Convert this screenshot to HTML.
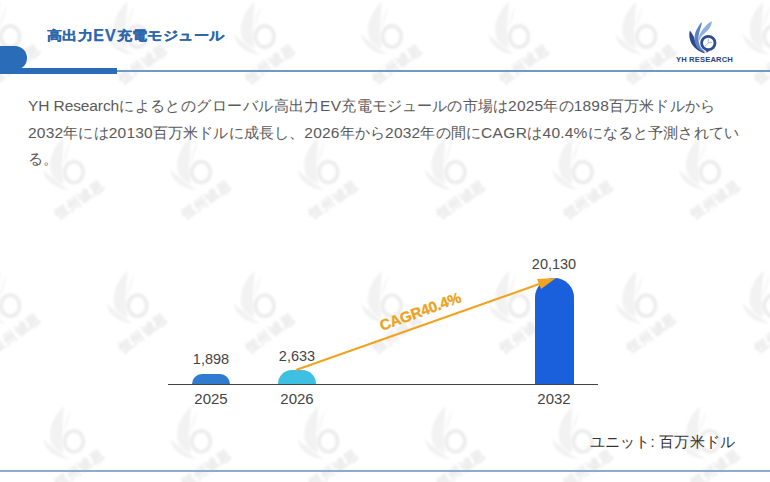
<!DOCTYPE html>
<html><head><meta charset="utf-8">
<style>
html,body{margin:0;padding:0;}
body{width:770px;height:482px;position:relative;overflow:hidden;background:#fff;font-family:"Liberation Sans",sans-serif;}
.abs{position:absolute;}
.sq{display:inline-block;transform:translateY(-0.8px) scaleY(0.86);transform-origin:50% 55%;}
.ev{display:inline-block;font-size:16px;letter-spacing:1px;}
#title{left:47px;top:26px;font-size:15px;font-weight:bold;color:#2d66ad;letter-spacing:0.4px;-webkit-text-stroke:0.25px #2d66ad;white-space:nowrap;line-height:20px;}
#tab{left:-12px;top:46px;width:39px;height:24px;background:#2b6cb8;border-radius:0 12px 12px 0;}
#thick{left:0;top:68px;width:117px;height:6px;background:#2b6cb8;}
#thin{left:117px;top:70px;width:653px;height:2px;background:#7298c8;}
#bottom{left:0;top:470px;width:770px;height:2px;background:#8eaacc;}
#para{left:28px;top:92px;width:760px;font-size:15px;line-height:27px;color:#5a5a5a;letter-spacing:0.15px;}
.ln{white-space:nowrap;height:27px;}
.w{letter-spacing:0.45px;}
.d{letter-spacing:0.2px;font-size:15.5px;}
.l{letter-spacing:0.4px;font-size:15.5px;}
.y{letter-spacing:-0.1px;font-size:15.5px;}
#unit{left:590px;top:432px;font-size:15px;color:#333;white-space:nowrap;line-height:20px;letter-spacing:0.15px;}
.lbl{font-size:14px;color:#444;text-align:center;width:60px;line-height:16px;}
</style></head><body>

<svg class="abs" style="left:0;top:0" width="770" height="482">
<defs>
<filter id="bl" x="-20%" y="-20%" width="140%" height="140%"><feGaussianBlur stdDeviation="0.8"/></filter>
<g id="wmk" fill="#f2f2f2" filter="url(#bl)">
  <path d="M-10,-35 C-18,-28 -24,-17 -24,-6 C-24,3 -18,9 -10,12 C-12,4 -12.5,-6 -11.5,-14 C-11,-22 -10.5,-28 -10,-35Z"/>
  <path d="M-31,-3 C-29,10 -18,17 -4,18 C-12,13 -18,9 -22,5 C-26,2 -29,0 -31,-3Z"/>
  <path d="M-3,-31 C-8,-24 -10,-16 -10.5,-8 C-8,-14 -5,-22 -3,-31Z" fill="#f5f5f5"/>
  <ellipse cx="0" cy="0" rx="9.3" ry="10.5" fill="none" stroke="#ededed" stroke-width="3.8"/>
  <text x="0" y="0" transform="translate(-15,47) rotate(-35)" font-family="Liberation Sans" font-weight="bold" font-size="12.5" letter-spacing="1.2" fill="#eeeeee" stroke="#eeeeee" stroke-width="0.8">恒州诚思</text>
</g>
</defs>
<use href="#wmk" transform="translate(10.3,36.5)"/>
<use href="#wmk" transform="translate(137.5,36.5)"/>
<use href="#wmk" transform="translate(264.7,36.5)"/>
<use href="#wmk" transform="translate(391.9,36.5)"/>
<use href="#wmk" transform="translate(519.1,36.5)"/>
<use href="#wmk" transform="translate(646.3,36.5)"/>
<use href="#wmk" transform="translate(773.5,36.5)"/>
<use href="#wmk" transform="translate(-53.3,172.1)"/>
<use href="#wmk" transform="translate(73.9,172.1)"/>
<use href="#wmk" transform="translate(201.1,172.1)"/>
<use href="#wmk" transform="translate(328.3,172.1)"/>
<use href="#wmk" transform="translate(455.5,172.1)"/>
<use href="#wmk" transform="translate(582.7,172.1)"/>
<use href="#wmk" transform="translate(709.9,172.1)"/>
<use href="#wmk" transform="translate(10.3,305.7)"/>
<use href="#wmk" transform="translate(137.5,305.7)"/>
<use href="#wmk" transform="translate(264.7,305.7)"/>
<use href="#wmk" transform="translate(391.9,305.7)"/>
<use href="#wmk" transform="translate(519.1,305.7)"/>
<use href="#wmk" transform="translate(646.3,305.7)"/>
<use href="#wmk" transform="translate(773.5,305.7)"/>
<use href="#wmk" transform="translate(-53.3,441.3)"/>
<use href="#wmk" transform="translate(73.9,441.3)"/>
<use href="#wmk" transform="translate(201.1,441.3)"/>
<use href="#wmk" transform="translate(328.3,441.3)"/>
<use href="#wmk" transform="translate(455.5,441.3)"/>
<use href="#wmk" transform="translate(582.7,441.3)"/>
<use href="#wmk" transform="translate(709.9,441.3)"/>
</svg>

<div id="title" class="abs"><span class="sq">高出力</span><span class="ev">EV</span><span class="sq">充電モジュール</span></div>
<div id="tab" class="abs"></div>
<div id="thick" class="abs"></div>
<div id="thin" class="abs"></div>
<div id="bottom" class="abs"></div>

<div id="para" class="abs"><div class="ln"><span class="y">YH Research</span><span class="w">によるとのグローバル高出力</span><span class="l">EV</span>充電モジュールの市場は<span class="d">2025</span>年の<span class="d">1898</span>百万米ドルから</div><div class="ln"><span class="d">2032</span>年には<span class="d">20130</span>百万米ドルに成長し、<span class="d">2026</span>年から<span class="d">2032</span>年の間に<span class="l">CAGR</span>は<span class="d">40.4%</span>になると予測されてい</div><div class="ln" style="margin-top:-1.5px">る。</div></div>

<!-- chart -->
<div class="abs" style="left:168px;top:384px;width:430px;height:1px;background:#444"></div>
<div class="abs" style="left:192px;top:374px;width:38px;height:10px;background:#2f7bd0;border-radius:10px 10px 0 0"></div>
<div class="abs" style="left:278px;top:370px;width:38px;height:14px;background:#3ec0e2;border-radius:14px 14px 0 0/14px 14px 0 0"></div>
<div class="abs" style="left:535px;top:278px;width:39px;height:106px;background:#1a5fdc;border-radius:19.5px 19.5px 0 0"></div>

<div class="abs lbl" style="left:181px;top:351px;font-size:14.5px">1,898</div>
<div class="abs lbl" style="left:181px;top:391px;font-size:15px">2025</div>
<div class="abs lbl" style="left:267px;top:348px;font-size:14.5px">2,633</div>
<div class="abs lbl" style="left:267px;top:391px;font-size:15px">2026</div>
<div class="abs lbl" style="left:524px;top:256px;font-size:14.5px">20,130</div>
<div class="abs lbl" style="left:524px;top:391px;font-size:15px">2032</div>

<svg class="abs" style="left:0;top:0" width="770" height="482">
  <line x1="296" y1="370" x2="545" y2="282" stroke="#f0a320" stroke-width="2.2"/>
  <polygon points="556,278 537,279 541,289" fill="#f0a320"/>
  <text x="0" y="0" transform="translate(382,331) rotate(-20)" font-family="Liberation Sans" font-weight="bold" font-size="15" letter-spacing="-0.15" fill="#eca21e" stroke="#eca21e" stroke-width="0.35">CAGR40.4%</text>
</svg>

<div id="unit" class="abs">ユニット: 百万米ドル</div>

<!-- logo -->
<svg class="abs" style="left:0;top:0" width="770" height="482">
 <g transform="translate(708.3,43)">
  <path d="M-18.36,-12.00 C-19.02,-11.73 -19.15,-7.60 -18.75,-5.30 C-18.36,-3.00 -17.37,-0.31 -16.00,1.79 C-14.62,3.89 -12.58,5.89 -10.48,7.31 C-8.38,8.73 -3.65,10.70 -3.39,10.30 C-3.12,9.91 -7.33,6.89 -8.90,4.94 C-10.48,3.00 -11.86,0.61 -12.84,-1.36 C-13.83,-3.33 -13.89,-5.10 -14.81,-6.88 C-15.73,-8.65 -17.70,-12.26 -18.36,-12.00Z" fill="#2c4a8e"/>
  <path d="M-6.54,-20.27 C-6.74,-21.32 -9.36,-17.38 -10.48,-15.54 C-11.60,-13.71 -12.71,-11.47 -13.24,-9.24 C-13.76,-7.01 -13.96,-4.38 -13.63,-2.15 C-13.30,0.09 -12.45,2.45 -11.27,4.16 C-10.09,5.86 -7.98,7.15 -6.54,8.10 C-5.09,9.04 -2.40,10.49 -2.60,9.83 C-2.80,9.17 -6.54,6.15 -7.72,4.16 C-8.90,2.16 -9.43,0.09 -9.69,-2.15 C-9.95,-4.38 -9.82,-6.22 -9.30,-9.24 C-8.77,-12.26 -6.34,-19.22 -6.54,-20.27Z" fill="#5a82c8"/>
  <path d="M3.31,-21.45 C2.59,-21.72 -0.89,-18.76 -2.60,-17.12 C-4.31,-15.48 -5.82,-13.44 -6.93,-11.60 C-8.05,-9.76 -8.84,-7.79 -9.30,-6.09 C-9.76,-4.38 -10.15,-1.23 -9.69,-1.36 C-9.23,-1.49 -7.85,-5.17 -6.54,-6.88 C-5.23,-8.58 -3.19,-10.16 -1.81,-11.60 C-0.43,-13.05 0.88,-13.90 1.73,-15.54 C2.59,-17.19 4.03,-21.19 3.31,-21.45Z" fill="#8eb0e2"/>
  <circle cx="0" cy="0" r="6.7" fill="#fff" stroke="#334d8f" stroke-width="2.8"/>
  <path d="M-3,6.5 L-1.5,9.8 L1.5,7.5Z" fill="#334d8f"/>
  <path d="M0,-4.5 L0,0 L4,-0.6 M0,0 L-3.4,3.4" fill="none" stroke="#8ea6d6" stroke-width="0.8"/>
 </g>
 <text x="676" y="62.4" font-family="Liberation Sans" font-weight="bold" font-size="7.6" letter-spacing="0.15" fill="#2b4283">YH RESEARCH</text>
</svg>

</body></html>
